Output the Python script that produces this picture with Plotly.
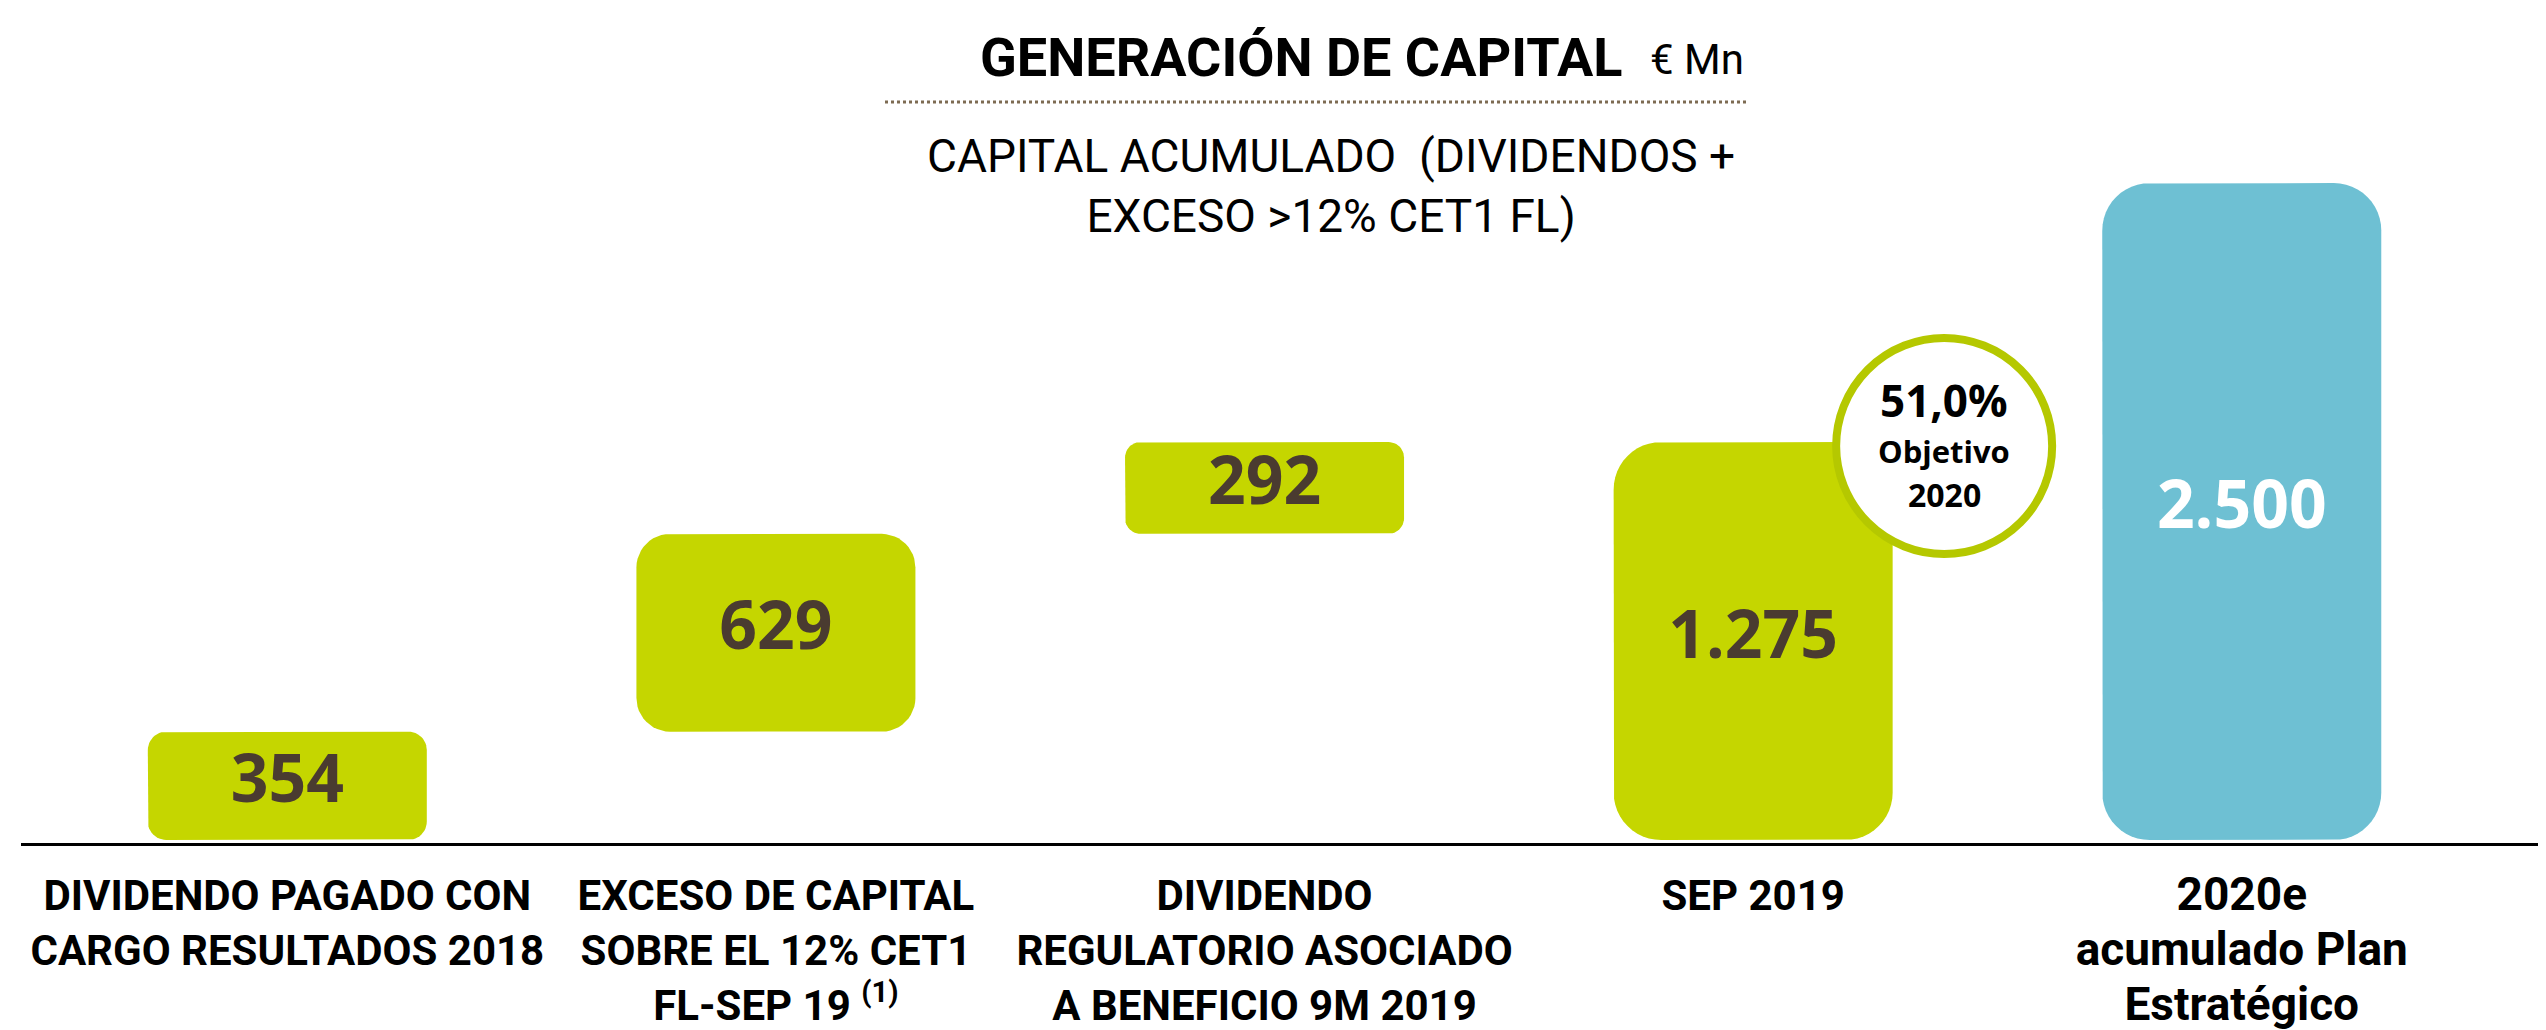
import plotly.graph_objs as go

# data
categories = [
    "DIVIDENDO PAGADO CON<br>CARGO RESULTADOS 2018",
    "EXCESO DE CAPITAL<br>SOBRE EL 12% CET1<br>FL-SEP 19 <sup>(1)</sup>",
    "DIVIDENDO<br>REGULATORIO ASOCIADO<br>A BENEFICIO 9M 2019",
    "SEP 2019",
    "2020e<br>acumulado Plan<br>Estratégico",
]
values = [354, 629, 292, 1275, 2500]
measures = ["relative", "relative", "relative", "total", "target"]
value_labels = ["354", "629", "292", "1.275", "2.500"]
objective_lines = ["51,0%", "Objetivo", "2020"]

GREEN = "#c5d600"
RING = "#b5c800"
BLUE = "#6ec0d3"
BROWN = "#4a3b30"

W, H = 2546, 1030
BASE_PX = 835          # baseline, px from top
X_RANGE = [-0.545, 4.639]
X_DOMAIN = [13 / W, 1]
BAR_W = 0.571
Y_TOP = 2655           # waterfall axis
Y2_TOP = 3163          # target bar drawn on its own (not to scale) axis, like the original
GAP_PX = 3

PPX = (X_DOMAIN[1] - X_DOMAIN[0]) * W / (X_RANGE[1] - X_RANGE[0])
PPY = BASE_PX / Y_TOP
PPY2 = BASE_PX / Y2_TOP


def rounded_rect(xc, y0, y1, ppy, frac=0.17, n=12):
    import math
    w_px = BAR_W * PPX
    h_px = (y1 - y0) * ppy
    r = frac * min(w_px, h_px)
    rx, ry = r / PPX, r / ppy
    xl, xr = xc - BAR_W / 2, xc + BAR_W / 2
    corners = [(xr - rx, y1 - ry, 0), (xl + rx, y1 - ry, 90),
               (xl + rx, y0 + ry, 180), (xr - rx, y0 + ry, 270)]
    xs, ys = [], []
    for cx, cy, a0 in corners:
        for k in range(n + 1):
            a = math.radians(a0 + 90 * k / n)
            xs.append(cx + rx * math.cos(a))
            ys.append(cy + ry * math.sin(a))
    xs.append(xs[0])
    ys.append(ys[0])
    return xs, ys


fig = go.Figure()

running = 0
for i, (v, m, lab) in enumerate(zip(values, measures, value_labels)):
    if m == "relative":
        lo, hi = running, running + v
        running = hi
    else:
        lo, hi = 0, v
    target = m == "target"
    ppy = PPY2 if target else PPY
    bottom = lo + GAP_PX / ppy if lo == 0 else lo
    xs, ys = rounded_rect(i, bottom, hi, ppy)
    yax = "y2" if target else "y"
    fig.add_trace(go.Scatter(
        x=xs, y=ys, mode="lines", fill="toself",
        fillcolor=BLUE if target else GREEN,
        line=dict(width=0), hoverinfo="skip", yaxis=yax,
    ))
    fig.add_trace(go.Scatter(
        x=[i], y=[(bottom + hi) / 2], mode="text", text=[lab],
        textfont=dict(family="Open Sans", size=66, weight=700,
                      color="white" if target else BROWN),
        hoverinfo="skip", yaxis=yax,
    ))

ticktext = categories[:-1] + [
    "<span style='font-size:46px'>%s</span>" % categories[-1]]

fig.update_layout(
    width=W, height=H,
    margin=dict(l=0, r=0, t=0, b=0),
    paper_bgcolor="white", plot_bgcolor="white",
    showlegend=False,
    font=dict(family="Roboto", color="black"),
    xaxis=dict(
        range=X_RANGE, domain=X_DOMAIN,
        tickvals=list(range(len(categories))), ticktext=ticktext,
        tickfont=dict(family="Roboto", size=42, weight=700, color="black"),
        ticks="", ticklabelstandoff=14,
        showline=True, linecolor="black", linewidth=3,
        showgrid=False, zeroline=False,
    ),
    yaxis=dict(range=[0, Y_TOP], domain=[1 - BASE_PX / H, 1], visible=False),
    yaxis2=dict(range=[0, Y2_TOP], domain=[1 - BASE_PX / H, 1],
                overlaying="y", visible=False),
)

# header
fig.add_annotation(
    x=1616 / W, y=1 - 50 / H, xref="paper", yref="paper",
    xanchor="right", yanchor="middle", showarrow=False,
    text="GENERACIÓN DE CAPITAL",
    font=dict(family="Roboto", size=54, weight=700, color="black"),
)
fig.add_annotation(
    x=1640 / W, y=1 - 52 / H, xref="paper", yref="paper",
    xanchor="left", yanchor="middle", showarrow=False,
    text="€ Mn", font=dict(family="Roboto", size=42, color="black"),
)
fig.add_shape(
    type="line", xref="paper", yref="paper",
    x0=877 / W, x1=1741 / W, y0=1 - 94 / H, y1=1 - 94 / H,
    line=dict(color="#7d6b52", width=3, dash="3px,3px"),
)
fig.add_annotation(
    x=1323 / W, y=1 - 178 / H, xref="paper", yref="paper",
    xanchor="center", yanchor="middle", showarrow=False,
    text="CAPITAL ACUMULADO&nbsp; (DIVIDENDOS +<br>EXCESO &gt;12% CET1 FL)",
    font=dict(family="Roboto", size=46, color="black"),
)

# objective bubble on the SEP 2019 bar
sep_idx = measures.index("total")
sep_top = values[sep_idx]
fig.add_shape(
    type="circle", xref="x", yref="y",
    xsizemode="pixel", ysizemode="pixel",
    xanchor=sep_idx, yanchor=sep_top,
    x0=83, x1=299, y0=-112, y1=104,
    fillcolor="white", line=dict(color=RING, width=8), layer="above",
)
for txt, dy, size in zip(objective_lines, [42, -9, -52], [44, 31, 32]):
    fig.add_annotation(
        x=sep_idx, y=sep_top, xref="x", yref="y",
        xshift=191, yshift=dy, showarrow=False, text=txt,
        font=dict(family="Open Sans", size=size, weight=700, color="black"),
    )

fig.write_html("out.html")
